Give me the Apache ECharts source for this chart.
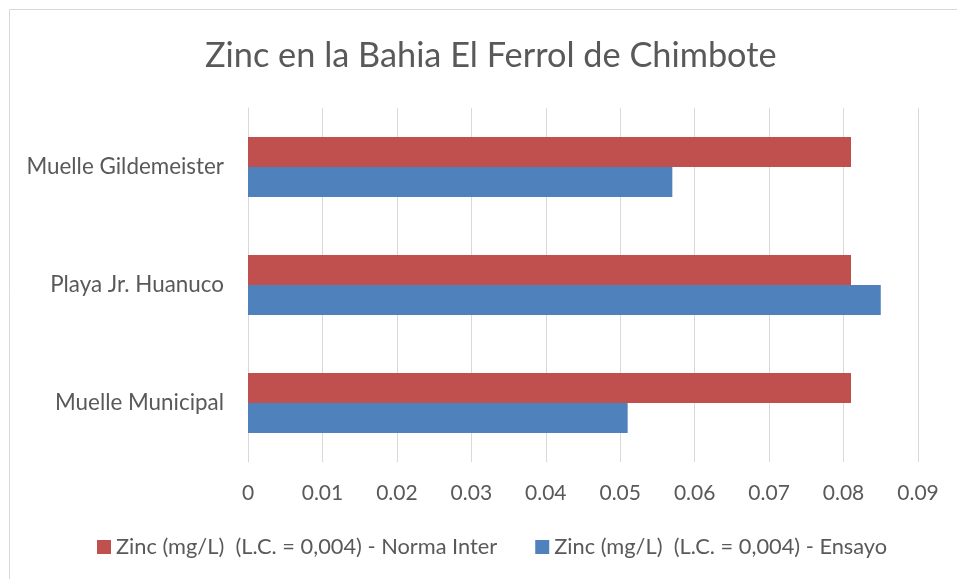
<!DOCTYPE html>
<html><head><meta charset="utf-8">
<script src="https://cdn.jsdelivr.net/npm/echarts@6/dist/echarts.min.js"></script>
<style>html,body{margin:0;padding:0;background:#fff}#c{width:957px;height:579px}</style>
</head><body><div id="c"></div>
<script>
const categories = ['Muelle Municipal', 'Playa Jr. Huanuco', 'Muelle Gildemeister'];
const seriesNorma = [0.081, 0.081, 0.081];
const seriesEnsayo = [0.051, 0.085, 0.057];
const nameNorma = 'Zinc (mg/L)  (L.C. = 0,004) - Norma Inter';
const nameEnsayo = 'Zinc (mg/L)  (L.C. = 0,004) - Ensayo';
const xTicks = [0, 0.01, 0.02, 0.03, 0.04, 0.05, 0.06, 0.07, 0.08, 0.09];

const chart = echarts.init(document.getElementById('c'));
const font = 'Lato, "Open Sans", sans-serif';
chart.setOption({
  animation: false,
  textStyle: {fontFamily: font},
  graphic: [{type:'rect', shape:{x:9.5, y:9.5, width:960, height:600}, style:{fill:'none', stroke:'#D9D9D9', lineWidth:1}}],
  title: {text: 'Zinc en la Bahia El Ferrol de Chimbote', left: 200, top: 34,
    textStyle: {fontFamily: font, fontSize: 34.3, fontWeight: 'normal', color: '#595959'}},
  legend: {bottom: 16, left: 92, itemWidth: 14, itemHeight: 14, itemGap: 38, icon: 'rect',
    data: [nameNorma, nameEnsayo],
    textStyle: {fontFamily: font, fontSize: 21.8, color: '#595959'}},
  grid: {left: 248, right: 39, top: 108, bottom: 117, containLabel: false},
  xAxis: {type: 'value', min: 0, max: 0.09, interval: 0.01,
    axisLine: {show: false}, axisTick: {show: false},
    splitLine: {lineStyle: {color: '#D9D9D9', width: 1}},
    axisLabel: {fontFamily: font, fontSize: 21, color: '#595959', margin: 21,
      formatter: v => { const t = xTicks.find(x => Math.abs(x - v) < 1e-9); return t === undefined ? '' : String(t); }}},
  yAxis: {type: 'category', data: categories,
    axisLine: {lineStyle: {color: '#D9D9D9'}}, axisTick: {show: false},
    axisLabel: {fontFamily: font, fontSize: 22.4, color: '#595959', margin: 24}},
  series: [
    {name: nameNorma, type: 'bar', data: seriesNorma, itemStyle: {color: '#C0504D'}, barGap: '0%', barCategoryGap: '49%'},
    {name: nameEnsayo, type: 'bar', data: seriesEnsayo, itemStyle: {color: '#4F81BD'}, barGap: '0%', barCategoryGap: '49%'}
  ]
});
</script></body></html>
